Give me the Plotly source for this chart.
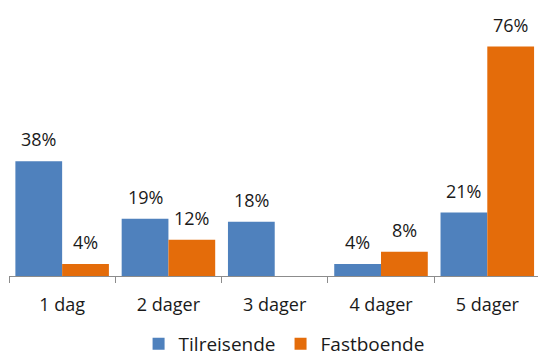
import plotly.graph_objects as go

categories = ["1 dag", "2 dager", "3 dager", "4 dager", "5 dager"]
tilreisende = [38, 19, 18, 4, 21]
fastboende = [4, 12, 0, 8, 76]

BLUE = "#4F81BD"
ORANGE = "#E46C0A"
FONT = "Open Sans"
TEXT = "#1a1a1a"
BARGAP = 0.12

fig = go.Figure()
fig.add_trace(go.Bar(name="Tilreisende", x=categories, y=tilreisende,
                     marker=dict(color=BLUE, line=dict(width=0))))
fig.add_trace(go.Bar(name="Fastboende", x=categories, y=fastboende,
                     marker=dict(color=ORANGE, line=dict(width=0))))

# value labels above each bar (zero values are left unlabelled)
half = (1 - BARGAP) / 4
annotations = []
for series, shift in ((tilreisende, -half), (fastboende, half)):
    for i, v in enumerate(series):
        if v == 0:
            continue
        annotations.append(dict(
            x=i + shift, y=v, xref="x", yref="y", text=f"{v}%",
            showarrow=False, yanchor="middle", yshift=22,
            font=dict(family=FONT, size=18, color=TEXT)))

fig.update_layout(
    width=538, height=356,
    margin=dict(l=9, r=0, t=0, b=80, autoexpand=False),
    paper_bgcolor="white", plot_bgcolor="white",
    barmode="group", bargap=BARGAP, bargroupgap=0,
    font=dict(family=FONT, size=18, color=TEXT),
    annotations=annotations,
    showlegend=True,
    legend=dict(orientation="h", x=0.52, xanchor="center",
                y=-0.246, yanchor="middle",
                font=dict(family=FONT, size=19, color=TEXT),
                itemwidth=30, traceorder="normal"),
    xaxis=dict(type="category", range=[-0.5, 4.477], showline=True,
               linecolor="#8c8c8c", linewidth=1, ticks="outside",
               tickson="boundaries", ticklen=6, tickcolor="#8c8c8c",
               ticklabelstandoff=12, automargin=False,
               showgrid=False, zeroline=False,
               tickfont=dict(family=FONT, size=18, color=TEXT)),
    yaxis=dict(range=[0, 91.4], visible=False, showgrid=False,
               zeroline=False),
)

fig.write_html("out.html")
